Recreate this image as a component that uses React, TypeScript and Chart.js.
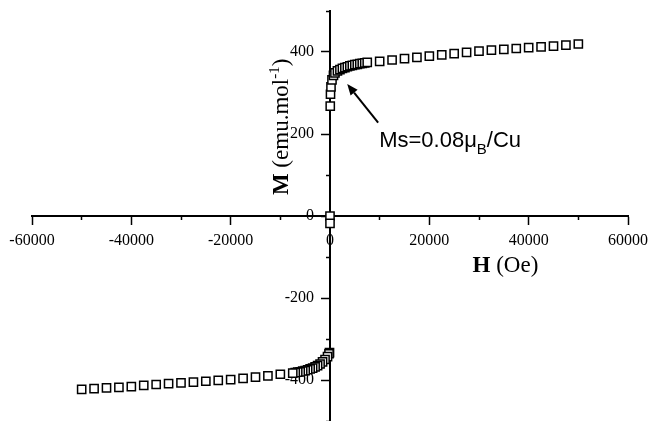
import React, { useEffect, useRef } from 'react';
import { Chart, registerables } from 'chart.js';

Chart.register(...registerables);

// Positive field branch: H (Oe) and M (emu/mol)
const H_POS = [0, 50, 100, 200, 400, 700, 1000, 1500, 2000, 2500, 3000, 3500, 4000, 4500, 5000, 5500, 6000, 6500, 7000, 7500, 10000, 12500, 15000, 17500, 20000, 22500, 25000, 27500, 30000, 32500, 35000, 37500, 40000, 42500, 45000, 47500, 50000];
const M_POS = [0, 268, 297, 315, 332, 343, 349, 354, 357, 360, 362, 364, 366, 367.5, 369, 370, 371.5, 372.5, 373.5, 374.5, 377, 380.5, 384, 387, 390, 393, 396, 399, 402, 404.5, 406.5, 408.5, 410.5, 412.5, 414.5, 417, 419.5];

// Negative field branch
const H_NEG = [0, -100, -200, -500, -1000, -1500, -2000, -2500, -3000, -3500, -4000, -4500, -5000, -5500, -6000, -6500, -7000, -7500, -10000, -12500, -15000, -17500, -20000, -22500, -25000, -27500, -30000, -32500, -35000, -37500, -40000, -42500, -45000, -47500, -50000];
const M_NEG = [-18, -333, -336, -343, -350, -356, -361, -365, -368, -371, -373, -375, -377, -378, -380, -381, -382, -383, -386, -390, -393, -396, -399, -401, -403, -405, -407, -409, -411, -413, -416, -418, -419, -421, -423];

// Axis ticks
const X_MAJOR = [-60000, -40000, -20000, 0, 20000, 40000, 60000];
const X_MINOR = [-50000, -30000, -10000, 10000, 30000, 50000];
const Y_MAJOR = [-400, -200, 0, 200, 400];
const Y_MINOR = [-500, -300, -100, 100, 300, 500];

// Texts
const X_TITLE_BOLD = 'H';
const X_TITLE_REST = ' (Oe)';
const Y_TITLE_BOLD = 'M';
const Y_TITLE_REST = ' (emu.mol';
const Y_TITLE_SUP = '-1';
const Y_TITLE_END = ')';
const NOTE_MAIN = 'Ms=0.08';
const NOTE_MU = 'μ';
const NOTE_SUB = 'B';
const NOTE_END = '/Cu';

const SERIF = "'Liberation Serif', 'Times New Roman', serif";
const SANS = "'Liberation Sans', Arial, sans-serif";
const Y_LABEL_GAP = 16;

const setTicks = (vals: number[]) => (scale: any) => {
  scale.ticks = vals.map((v) => ({ value: v }));
};
const zeroPad = (scale: any) => {
  scale.paddingLeft = 0;
  scale.paddingRight = 0;
  scale.paddingTop = 0;
  scale.paddingBottom = 0;
};
// Move the y tick labels left of the tick marks (centered axis has no label gap)
const shiftYLabels = (scale: any) => {
  if (scale.__shifted) return;
  const orig = scale.getLabelItems.bind(scale);
  scale.getLabelItems = (ca: any) =>
    orig(ca).map((it: any) => ({
      ...it,
      options: {
        ...it.options,
        translation: [it.options.translation[0] - Y_LABEL_GAP, it.options.translation[1]],
      },
    }));
  scale.__shifted = true;
};

const textPlugin = {
  id: 'textPlugin',
  afterDraw(chart: any) {
    const { ctx } = chart;
    const xs = chart.scales.x;
    const ys = chart.scales.y;
    ctx.save();
    ctx.fillStyle = '#000';
    ctx.strokeStyle = '#000';
    ctx.textBaseline = 'alphabetic';
    ctx.textAlign = 'left';

    // X title
    let px = xs.getPixelForValue(28700);
    const py = ys.getPixelForValue(-137);
    ctx.font = `bold 23px ${SERIF}`;
    ctx.fillText(X_TITLE_BOLD, px, py);
    px += ctx.measureText(X_TITLE_BOLD).width;
    ctx.font = `23px ${SERIF}`;
    ctx.fillText(X_TITLE_REST, px, py);

    // Y title (rotated)
    ctx.save();
    ctx.translate(xs.getPixelForValue(-8500), ys.getPixelForValue(51));
    ctx.rotate(-Math.PI / 2);
    let tx = 0;
    ctx.font = `bold 23px ${SERIF}`;
    ctx.fillText(Y_TITLE_BOLD, tx, 0);
    tx += ctx.measureText(Y_TITLE_BOLD).width;
    ctx.font = `23px ${SERIF}`;
    ctx.fillText(Y_TITLE_REST, tx, 0);
    tx += ctx.measureText(Y_TITLE_REST).width;
    ctx.font = `15px ${SERIF}`;
    ctx.fillText(Y_TITLE_SUP, tx, -9);
    tx += ctx.measureText(Y_TITLE_SUP).width;
    ctx.font = `23px ${SERIF}`;
    ctx.fillText(Y_TITLE_END, tx, 0);
    ctx.restore();

    // Annotation text
    let ax = xs.getPixelForValue(9900);
    const ay = ys.getPixelForValue(167.6);
    ctx.font = `22px ${SANS}`;
    ctx.fillText(NOTE_MAIN, ax, ay);
    ax += ctx.measureText(NOTE_MAIN).width;
    ctx.fillText(NOTE_MU, ax, ay);
    ax += ctx.measureText(NOTE_MU).width;
    ctx.font = `15px ${SANS}`;
    ctx.fillText(NOTE_SUB, ax, ay + 7);
    ax += ctx.measureText(NOTE_SUB).width;
    ctx.font = `22px ${SANS}`;
    ctx.fillText(NOTE_END, ax, ay);

    // Arrow
    const x1 = xs.getPixelForValue(9690);
    const y1 = ys.getPixelForValue(227.6);
    const x2 = xs.getPixelForValue(3470);
    const y2 = ys.getPixelForValue(322);
    const ang = Math.atan2(y2 - y1, x2 - x1);
    const headLen = 11;
    const headW = 4.5;
    const bx = x2 - headLen * Math.cos(ang);
    const by = y2 - headLen * Math.sin(ang);
    ctx.lineWidth = 2;
    ctx.beginPath();
    ctx.moveTo(x1, y1);
    ctx.lineTo(bx, by);
    ctx.stroke();
    ctx.beginPath();
    ctx.moveTo(x2, y2);
    ctx.lineTo(bx + headW * Math.sin(ang), by - headW * Math.cos(ang));
    ctx.lineTo(bx - headW * Math.sin(ang), by + headW * Math.cos(ang));
    ctx.closePath();
    ctx.fill();
    ctx.restore();
  },
};

export default function App() {
  const canvasRef = useRef<HTMLCanvasElement | null>(null);

  useEffect(() => {
    document.body.style.margin = '0';
    const canvas = canvasRef.current;
    if (!canvas) return;
    const points = [
      ...H_POS.map((h, i) => ({ x: h, y: M_POS[i] })),
      ...H_NEG.map((h, i) => ({ x: h, y: M_NEG[i] })),
    ];
    const tickFont = { family: SERIF, size: 16 };
    const chart = new Chart(canvas, {
      type: 'scatter',
      data: {
        datasets: [
          {
            data: points,
            pointStyle: 'rect',
            pointRadius: 5.8,
            pointBorderWidth: 1.5,
            borderColor: '#000',
            backgroundColor: '#fff',
            showLine: false,
          },
        ],
      },
      options: {
        animation: false,
        responsive: true,
        maintainAspectRatio: false,
        devicePixelRatio: 1,
        layout: { autoPadding: false, padding: { left: 32, right: 21, top: 11, bottom: 0 } },
        plugins: { legend: { display: false }, tooltip: { enabled: false } },
        scales: {
          x: {
            type: 'linear',
            min: -60000,
            max: 60000,
            position: { y: 0 } as any,
            afterBuildTicks: setTicks(X_MAJOR),
            afterFit: zeroPad,
            grid: { drawOnChartArea: false, drawTicks: true, tickLength: 8, tickWidth: 1.5, tickColor: '#000' },
            border: { display: true, color: '#000', width: 2 },
            ticks: { color: '#000', font: tickFont, padding: 7, maxRotation: 0, autoSkip: false, callback: (v: any) => String(v) },
          },
          xMinor: {
            type: 'linear',
            min: -60000,
            max: 60000,
            position: { y: 0 } as any,
            afterBuildTicks: setTicks(X_MINOR),
            afterFit: zeroPad,
            grid: { drawOnChartArea: false, drawTicks: true, tickLength: 4, tickWidth: 1.5, tickColor: '#000' },
            border: { display: false },
            ticks: { display: false },
          },
          y: {
            type: 'linear',
            min: -500,
            max: 500,
            position: { x: 0 } as any,
            afterBuildTicks: setTicks(Y_MAJOR),
            afterFit: zeroPad,
            afterUpdate: shiftYLabels,
            grid: { drawOnChartArea: false, drawTicks: true, tickLength: 8, tickWidth: 1.5, tickColor: '#000' },
            border: { display: true, color: '#000', width: 2 },
            ticks: { color: '#000', font: tickFont, padding: 7, autoSkip: false, callback: (v: any) => String(v) },
          },
          yMinor: {
            type: 'linear',
            min: -500,
            max: 500,
            position: { x: 0 } as any,
            afterBuildTicks: setTicks(Y_MINOR),
            afterFit: zeroPad,
            grid: { drawOnChartArea: false, drawTicks: true, tickLength: 4, tickWidth: 1.5, tickColor: '#000' },
            border: { display: false },
            ticks: { display: false },
          },
        },
      },
      plugins: [textPlugin],
    } as any);
    return () => chart.destroy();
  }, []);

  return (
    <div style={{ position: 'absolute', left: 0, top: 0, width: 649, height: 421, background: '#fff' }}>
      <canvas ref={canvasRef} />
    </div>
  );
}
